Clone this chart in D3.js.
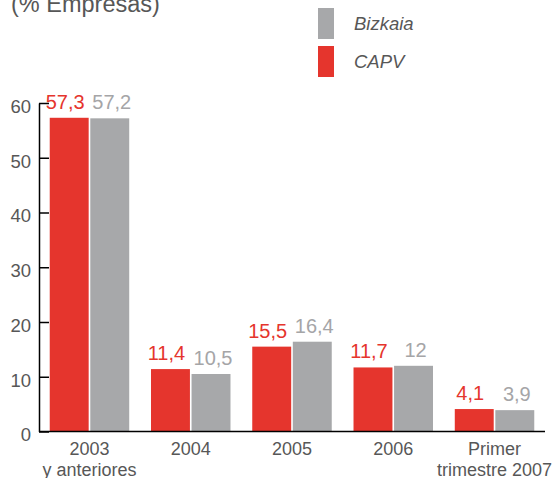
<!DOCTYPE html>
<html><head><meta charset="utf-8">
<script src="https://cdn.jsdelivr.net/npm/d3@7"></script>
<style>body{margin:0;background:#fff}svg{display:block;font-family:Arial,"Liberation Sans",sans-serif}</style>
</head><body>
<svg id="c" width="555" height="478"></svg>
<script>
const categories = [["2003","y anteriores"],["2004"],["2005"],["2006"],["Primer","trimestre 2007"]];
const seriesNames = ["CAPV","Bizkaia"];
const capv = [57.3, 11.4, 15.5, 11.7, 4.1];
const bizkaia = [57.2, 10.5, 16.4, 12, 3.9];
const yTicks = [0,10,20,30,40,50,60];
const title = "(% Empresas)";

const colors = {CAPV:"#E5352D", Bizkaia:"#A7A8AA"};
const labelColors = {CAPV:"#E5352D", Bizkaia:"#A5A5A7"};
const textCol = "#575757";
const svg = d3.select("#c");
const fmt = v => String(v).replace(".", ",");

const pLeft = 39, pRight = 545, pTop = 103, pBottom = 431.5;
const y = d3.scaleLinear().domain([0,60]).range([pBottom, pTop]);
const x0 = d3.scaleBand().domain(d3.range(categories.length)).range([pLeft, pRight]).paddingInner(0.215).paddingOuter(0.106);
const x1 = d3.scaleBand().domain(seriesNames).range([0, x0.bandwidth()]).paddingInner(0.04);

const data = {CAPV: capv, Bizkaia: bizkaia};

// title
svg.append("text").attr("x", 11).attr("y", 12).attr("font-size", 23.5).attr("fill", textCol).text(title);

// legend
const legend = [["Bizkaia", 8], ["CAPV", 46]];
legend.forEach(([name, ly]) => {
  svg.append("rect").attr("x", 318).attr("y", ly).attr("width", 16).attr("height", 31).attr("fill", colors[name]);
  svg.append("text").attr("x", 354).attr("y", ly + 21.5).attr("font-size", 18.5).attr("font-style", "italic").attr("fill", textCol).text(name);
});

// bars
const g = svg.append("g");
seriesNames.forEach(s => {
  const vals = data[s];
  g.selectAll(null).data(vals).enter().append("rect")
    .attr("x", (d,i) => x0(i) + x1(s))
    .attr("y", d => y(d))
    .attr("width", x1.bandwidth())
    .attr("height", d => y(0) - y(d))
    .attr("fill", colors[s]);
  g.selectAll(null).data(vals).enter().append("text")
    .attr("x", (d,i) => x0(i) + x1(s) + x1.bandwidth()/2 + (s === "CAPV" ? -4 : 2))
    .attr("y", d => y(d) - 9)
    .attr("text-anchor", "middle")
    .attr("font-size", 20)
    .attr("fill", labelColors[s])
    .text(d => fmt(d));
});

// axes
const yAxis = d3.axisLeft(y).tickValues(yTicks).tickSizeInner(-10).tickSizeOuter(0).tickPadding(8);
const ya = svg.append("g").attr("transform", `translate(${pLeft},0)`).call(yAxis);
ya.select(".domain").attr("stroke", "#000").attr("stroke-width", 1.5);
ya.selectAll(".tick line").attr("stroke", "#000").attr("stroke-width", 1.5);
ya.selectAll(".tick text").attr("font-size", 18.5).attr("fill", textCol).attr("font-family", "Arial, 'Liberation Sans', sans-serif").attr("dy", "0.5em");

svg.append("line").attr("x1", pLeft).attr("x2", pRight).attr("y1", y(0)).attr("y2", y(0)).attr("stroke", "#000").attr("stroke-width", 1.5);

// category labels
categories.forEach((lines, i) => {
  const t = svg.append("text").attr("text-anchor", "middle").attr("font-size", 18).attr("fill", textCol);
  lines.forEach((ln, k) => {
    t.append("tspan").attr("x", x0(i) + x0.bandwidth()/2).attr("y", 455 + k*21).text(ln);
  });
});
</script>
</body></html>
